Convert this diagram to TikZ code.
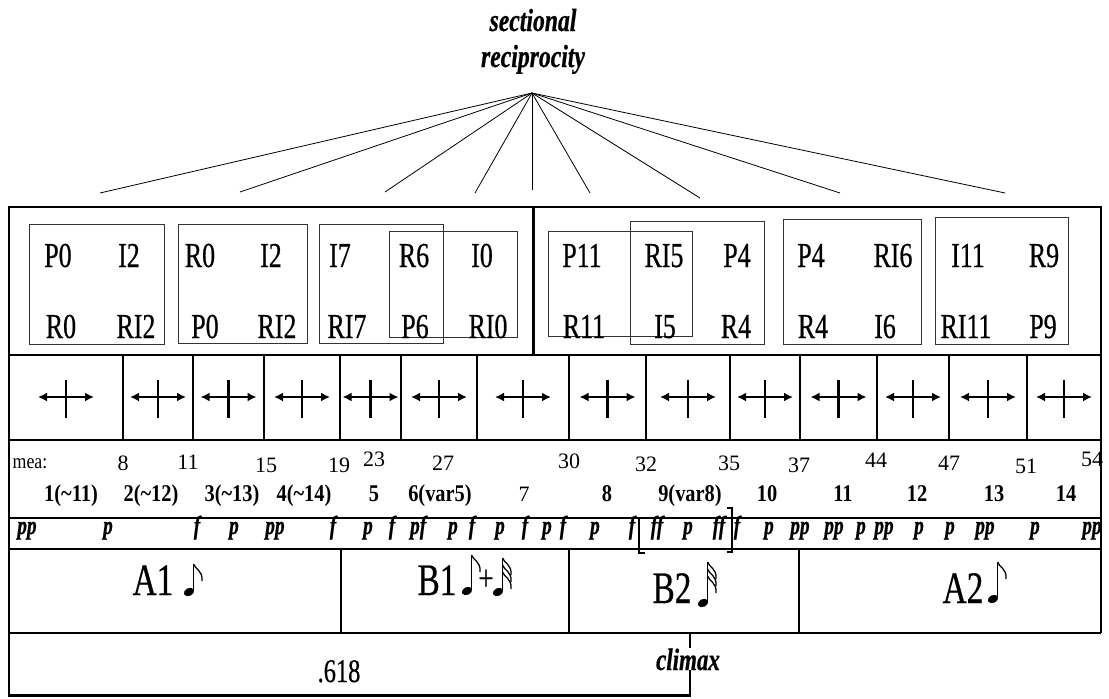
\documentclass[tikz,border=0pt]{standalone}
\usepackage{fontspec}
\setmainfont{Liberation Serif}
\newfontfamily\tallfont[FakeStretch=0.74,FakeBold=0.6]{Liberation Serif}
\newfontfamily\semifont[FakeStretch=0.85]{Liberation Serif}
\usetikzlibrary{arrows.meta}

\tikzset{
 setlabel/.style={inner sep=0pt,anchor=base,font=\tallfont\fontsize{35}{40}\selectfont},
 partlabel/.style={inner sep=0pt,anchor=base,font=\tallfont\fontsize{45}{50}\selectfont},
 dynlabel/.style={inner sep=0pt,anchor=base,font=\tallfont\bfseries\itshape\fontsize{26}{28}\selectfont},
 bartext/.style={inner sep=0pt,anchor=base,font=\fontsize{22}{24}\selectfont},
 meatext/.style={inner sep=0pt,anchor=base,font=\semifont\fontsize{21}{23}\selectfont},
 phrasenum/.style={inner sep=0pt,anchor=base,font=\semifont\bfseries\fontsize{24}{26}\selectfont},
 toptext/.style={inner sep=0pt,anchor=base,font=\tallfont\bfseries\itshape\fontsize{32}{34}\selectfont},
 setbox/.style={draw=black!80,line width=0.9pt},
 fanline/.style={line width=0.8pt},
}

% head x, head y, flags, stem
\newcommand\flagnote[4]{%
 \fill[rotate around={25:(#1,#2)}] (#1,#2) ellipse [x radius=5.4,y radius=3.9];
 \draw[line width=1.6pt] ({#1+4.6},{#2-1}) -- ({#1+4.6},{#2-#4});
 \foreach \k in {1,...,#3}{
  \draw[line width=1.3pt] ({#1+4.6},{#2-#4+7*(\k-1)}) .. controls ({#1+5.6},{#2-#4+7*(\k-1)+5}) and ({#1+14},{#2-#4+7*(\k-1)+6}) .. ({#1+13},{#2-#4+7*(\k-1)+17});
 }}

\begin{document}
\begin{tikzpicture}[x=1pt,y=-1pt,line width=1.2pt]
\useasboundingbox (0,0) rectangle (1109,699);

\node[toptext] (sect) at (533,31) {sectional};
\node[toptext] (recip) at (533,67) {reciprocity};
\coordinate (apex) at (532,93);
\foreach \x/\y [count=\i] in {100/193,240/192,385/192,475/193,532/190,590/193,700/198,840/193,1005/193}{
 \coordinate (f\i) at (\x,\y);
 \draw[fanline] (apex) -- (f\i);
}

\draw (9,633) -- (9,207) -- (1101,207) -- (1101,633);
\foreach \y in {355,440,518,549,633} \draw (9,\y) -- (1101,\y);
\draw[line width=3pt] (533,207) -- (533,355);

\foreach \xa/\ya/\xb/\yb in {29/224/164/344,178/224/307/343,319/224/443/343,389/231/517/337,548/231/692/336,630/221/764/344,783/219/921/344,935/217/1068/344}
 \draw[setbox] (\xa,\ya) rectangle (\xb,\yb);

\foreach \x/\y/\t [count=\i] in {58/267/P0,129/267/I2,61/338/R0,136/338/RI2,
 200/267/R0,271/267/I2,205/338/P0,277/338/RI2,
 340/267/I7,414/267/R6,482/267/I0,347/338/RI7,415/338/P6,488/338/RI0,
 582/267/P11,664/267/RI5,737/267/P4,584/338/R11,665/338/I5,736/338/R4,
 811/267/P4,893/267/RI6,813/338/R4,885/338/I6,
 968/267/I11,1044/267/R9,966/338/RI11,1043/338/P9}
 \node[setlabel] (set\i) at (\x,\y) {\t};

\foreach \a/\b in {9/123,123/193,193/264,264/340,340/401,401/477,477/569,569/646,646/730,730/800,800/877,877/949,949/1027,1027/1101}{
 \draw[{Latex[length=9pt,width=9pt]}-{Latex[length=9pt,width=9pt]},line width=2.8pt] ({(\a+\b)/2-28},397) -- ({(\a+\b)/2+28},397);
 \draw[line width=2.4pt] ({(\a+\b)/2},380) -- ({(\a+\b)/2},418);
 \draw[line width=1.5pt] (\b,355) -- (\b,440);
}

\node[meatext] (mea) at (30,468) {mea:};
\foreach \x/\y/\t in {123/470/8,188/469/11,266/472/15,339/472/19,374/466/23,443/470/27,569/468/30,646/471/32,729/470/35,799/472/37,876/467/44,949/470/47,1026/473/51,1092/466/54}
 \node[bartext] (bar\t) at (\x,\y) {\t};

\foreach \x/\t [count=\i] in {71/1(\textasciitilde 11),151/2(\textasciitilde 12),232/3(\textasciitilde 13),304/4(\textasciitilde 14),374/5,440/6(var5),607/8,690/9(var8),767/10,843/11,917/12,994/13,1066/14}
 \node[phrasenum] (phrase\i) at (\x,501) {\t};
\node[bartext] (phraseseven) at (524,501) {7};

\foreach \x/\t [count=\i] in {27/pp,108/p,197/f,234/p,275/pp,333/f,368/p,392/f,415/p,423/f,453/p,472/f,500/p,525/f,547/p,563/f,595/p,632/f,657/ff,688/p,719/ff,737/f,769/p,800/pp,834/pp,861/p,884/pp,919/p,950/p,985/pp,1035/p,1092/pp}
 \node[dynlabel] (dyn\i) at (\x,534) {\t};
\draw[line width=2.5pt] (645,518) -- (639,518) -- (639,553) -- (645,553);
\draw[line width=2.5pt] (727,508) -- (732,508) -- (732,552) -- (727,552);

\foreach \x in {341,569,799} \draw (\x,549) -- (\x,633);
\node[partlabel] (aone) at (153,595) {A1};
\flagnote{189}{592}{1}{28}
\node[partlabel] (bone) at (437,595) {B1};
\flagnote{467}{591}{1}{36}
\node[inner sep=0pt,font=\tallfont\fontsize{36}{38}\selectfont] (plus) at (486,580) {+};
\flagnote{498}{592}{3}{34}
\node[partlabel] (btwo) at (672,603) {B2};
\flagnote{703}{603}{3}{41}
\node[partlabel] (atwo) at (963,603) {A2};
\flagnote{993}{599}{1}{37}

\draw[line width=2pt] (9,633) -- (9,695);
\draw[line width=3pt] (8,695) -- (691,695);
\coordinate (climaxtop) at (690,633);
\coordinate (climaxbot) at (690,695);
\draw (climaxtop) -- (climaxbot);
\node[toptext,font=\tallfont\bfseries\itshape\fontsize{31}{33}\selectfont,fill=white] (climax) at (688,670) {climax};
\node[setlabel,font=\tallfont\fontsize{33}{36}\selectfont] (ratio) at (339,682) {.618};
\end{tikzpicture}
\end{document}
